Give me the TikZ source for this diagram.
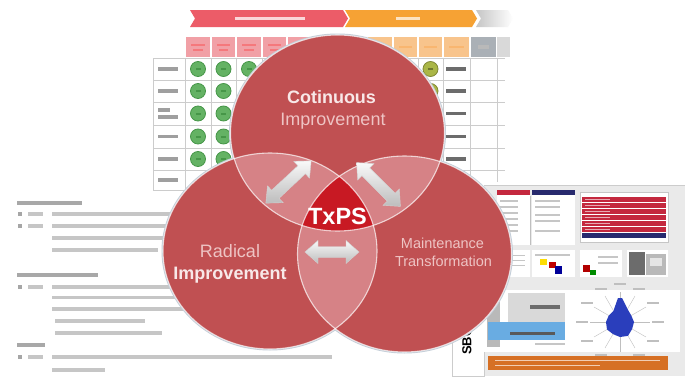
\documentclass[tikz,border=0pt]{standalone}
\usepackage{fontspec}
\setmainfont{Liberation Sans}
\definecolor{circred}{RGB}{192,80,82}
\definecolor{lensred}{RGB}{214,130,134}
\definecolor{coreRed}{RGB}{200,25,35}
\definecolor{banRed}{RGB}{236,92,104}
\definecolor{banOrange}{RGB}{246,162,52}
\definecolor{hdrPink}{RGB}{241,160,166}
\definecolor{hdrOrange}{RGB}{248,196,140}
\definecolor{hdrGray}{RGB}{170,176,182}
\definecolor{okGreen}{RGB}{100,178,100}
\definecolor{okGreenD}{RGB}{70,150,72}
\definecolor{oliveG}{RGB}{170,182,70}
\definecolor{txtLight}{RGB}{248,232,232}
\definecolor{txtPink}{RGB}{238,196,196}
\definecolor{haloC}{RGB}{196,206,216}
\definecolor{dashRed}{RGB}{196,40,62}
\definecolor{dashNavy}{RGB}{40,42,110}
\definecolor{dashBlue}{RGB}{105,172,226}
\definecolor{radarBlue}{RGB}{42,62,188}
\definecolor{dashOrange}{RGB}{214,112,36}
\definecolor{dashBg}{RGB}{234,234,234}
\newcommand{\tbar}[4][txtbar]{\fill[#1] (#2,{#4-1.8}) rectangle (#3,{#4+1.8});}
\newcommand{\headbar}[3]{\fill[hdbar] (#1,{#3-2.4}) rectangle (#2,{#3+2.4});}
\newcommand{\bull}[1]{\fill[gray!70] (18,{#1-2}) rectangle (22,{#1+2});}
\newcommand{\dblarr}[4]{%
  \begin{scope}[shift={(#1,#2)},rotate=#3]
    \shade[arrowshade] (-#4,0) -- ({-#4+13},-11.5) -- ({-#4+13},-5.5) -- ({#4-13},-5.5)
      -- ({#4-13},-11.5) -- (#4,0) -- ({#4-13},11.5) -- ({#4-13},5.5)
      -- ({-#4+13},5.5) -- ({-#4+13},11.5) -- cycle;
  \end{scope}}
\tikzset{
  txtbar/.style={fill=gray!45},
  hdbar/.style={fill=gray!68},
  gridline/.style={draw=gray!40, line width=0.6pt},
  vennhalo/.style={draw=haloC, line width=3pt},
  venn/.style={fill=circred},
  vennline/.style={draw=white, draw opacity=0.7, line width=1.1pt},
  arrowshade/.style={top color=gray!5, bottom color=gray!52, draw=gray!35, line width=0.4pt},
  bigreg/.style={font=\fontsize{18}{20}\selectfont, anchor=base, inner sep=0pt},
  bigbold/.style={font=\bfseries\fontsize{18}{20}\selectfont, anchor=base, inner sep=0pt},
  midreg/.style={font=\fontsize{14.5}{16}\selectfont, anchor=base, inner sep=0pt, text=txtPink},
}
\begin{document}
\begin{tikzpicture}[x=1pt,y=-1pt]
\useasboundingbox (0,0) rectangle (685,380);
\fill[white] (0,0) rectangle (685,380);

% ---------- background: table slide ----------
\fill[banRed] (190,10) -- (343,10) -- (348,18.5) -- (343,27) -- (190,27) -- (195,18.5) -- cycle;
\fill[banOrange] (345,10) -- (472,10) -- (477,18.5) -- (472,27) -- (345,27) -- (350,18.5) -- cycle;
\shade[left color=gray!45, right color=white] (476,10) -- (508,10) -- (513,18.5) -- (508,27) -- (476,27) -- (481,18.5) -- cycle;
\tbar[fill=white!75!banRed]{235}{305}{18.5}
\tbar[fill=white!70!banOrange]{396}{420}{18.5}

\foreach \a/\b in {185/211,211/236,236/262,262/287,287/313,313/340}
  {\fill[hdrPink] (\a+0.6,37) rectangle (\b-0.6,57);
   \fill[hdrPink!75!red] (\a+6,44) rectangle (\b-6,46);
   \fill[hdrPink!75!red] (\a+8,49) rectangle (\b-8,51);}
\foreach \a/\b in {340/367,367/393,393/418,418/443,443/470}
  {\fill[hdrOrange] (\a+0.6,37) rectangle (\b-0.6,57);
   \fill[hdrOrange!80!orange] (\a+6,46) rectangle (\b-6,48);}
\fill[hdrGray] (470.6,37) rectangle (496.4,57);
\fill[gray!30] (497,37) rectangle (510,57);
\fill[gray!55] (478,45) rectangle (489,49);

\foreach \y in {58,80,102,125,148,170,190} {\draw[gridline] (153,\y) -- (505,\y);}
\foreach \x in {153,185,211,236,262,287,313,340,367,393,418,443,470,497} {\draw[gridline] (\x,58) -- (\x,190);}

\foreach \y in {69,91,136.5,159,180} {\tbar[fill=gray!75]{158}{178}{\y}}
\tbar[fill=gray!75]{158}{170}{110}
\tbar[fill=gray!75]{158}{178}{117}
\foreach \y in {69,91,113.5,136.5,159} {\tbar[fill=gray!85!black]{446}{466}{\y}}

\foreach \x in {198,223.5,249,274.5,300,326.5,353.5,380,405.5}
  {\foreach \y in {69,91,113.5,136.5,159}
    {\fill[okGreen, draw=okGreenD, line width=0.8pt] (\x,\y) circle (7.5pt);
     \fill[okGreenD] (\x-2.5,\y-1) rectangle (\x+2.5,\y+1);}}
\foreach \y in {69,91}
  {\fill[oliveG, draw=oliveG!75!black, line width=0.8pt] (430.5,\y) circle (7.5pt);
   \fill[oliveG!65!black] (428,\y-1) rectangle (433,\y+1);}

% ---------- background: left text ----------
\headbar{17}{82}{203}
\bull{214} \tbar{28}{43}{214} \tbar{52}{190}{214}
\bull{226} \tbar{28}{43}{226} \tbar{52}{190}{226}
\tbar{52}{190}{238}
\tbar{52}{158}{250}
\headbar{17}{98}{275}
\bull{287} \tbar{28}{43}{287} \tbar{52}{190}{287}
\tbar{52}{190}{297.5}
\tbar{52}{190}{309}
\tbar{55}{145}{321}
\tbar{55}{162}{333}
\headbar{17}{45}{345}
\bull{357} \tbar{28}{43}{357} \tbar{52}{332}{357}
\tbar{52}{105}{370}

% ---------- background: dashboard ----------
\fill[white] (450,182) rectangle (685,379);
\fill[dashBg] (484,185) rectangle (685,376);
\draw[gray!40, line width=0.6pt] (484,185) -- (685,185);
\fill[white, draw=gray!40, line width=0.5pt] (452,287) rectangle (484,376);
\node[font=\bfseries\fontsize{13}{14}\selectfont, rotate=90, inner sep=0pt] (sbc) at (467,341) {SBC};
% top row
\fill[white] (497,190) rectangle (530,245);
\fill[dashRed] (497,190) rectangle (530,195);
\foreach \y in {200,206,212,218,224,230} {\fill[gray!45] (500,\y) rectangle (518,\y+1.5);}
\fill[white] (532,190) rectangle (575,245);
\fill[dashNavy] (532,190) rectangle (575,195);
\foreach \y in {200,206,214,220,230} {\fill[gray!45] (535,\y) rectangle (560,\y+1.5);}
\draw[gray!50, line width=0.8pt] (530.5,196) -- (530.5,245);
\fill[white, draw=gray!45, line width=0.5pt] (580,192) rectangle (668,242);
\foreach \y in {197,203,209,215,221,227} {\fill[dashRed] (582,\y) rectangle (666,\y+5);}
\fill[dashNavy] (582,233) rectangle (666,238);
\foreach \y in {197,203,209,215,221,227} {\fill[white!60!dashRed] (585,\y+2) rectangle (610,\y+3);}
% second row
\fill[white] (497,250) rectangle (530,277);
\foreach \y in {255,260,265} {\fill[gray!45] (500,\y) rectangle (525,\y+1.2);}
\fill[white] (532,250) rectangle (575,277);
\fill[yellow!80!orange] (540,259) rectangle (547,265);
\fill[red!75!black] (549,262) rectangle (556,268);
\fill[blue!60!black] (555,266) rectangle (562,274);
\fill[gray!45] (535,254) rectangle (570,255.5);
\fill[white] (580,250) rectangle (622,277);
\fill[red!70!black] (583,265) rectangle (590,272);
\fill[green!55!black] (590,270) rectangle (596,275);
\fill[gray!45] (598,256) rectangle (618,257.5);
\fill[gray!45] (598,262) rectangle (618,263.5);
\fill[white] (627,250) rectangle (668,277);
\fill[gray!85!black] (629,252) rectangle (645,275);
\fill[gray!55] (646,254) rectangle (666,275);
\fill[gray!20] (650,258) rectangle (662,266);
% third row
\fill[white] (484,290) rectangle (680,352);
\fill[gray!55] (487,302) rectangle (500,347);
\fill[gray!30] (508,293) rectangle (565,340);
\fill[gray!85!black] (530,305) rectangle (560,309);
\fill[dashBlue] (488,322) rectangle (565,340);
\fill[gray!70!black] (510,332) rectangle (555,334.5);
\fill[gray!45] (535,343) rectangle (565,345);
\begin{scope}[shift={(620,322)}]
  \foreach \a in {0,30,...,330} {\draw[gray!50, line width=0.4pt] (0,0) -- (\a:30pt);}
  \fill[radarBlue] (0:14pt) -- (30:13pt) -- (60:15pt) -- (85:24pt) -- (95:24pt) -- (120:13pt) -- (150:13pt)
     -- (180:14pt) -- (210:15pt) -- (240:14pt) -- (270:15pt) -- (300:16pt) -- (330:14pt) -- cycle;
  \foreach \a in {0,30,...,330} {\fill[gray!50] (\a:38pt) ++(-6pt,-1.2pt) rectangle ++(12pt,2.4pt);}
\end{scope}
\fill[dashOrange] (488,356) rectangle (668,370);
\fill[white!65!dashOrange] (495,359.5) rectangle (660,360.8);
\fill[white!65!dashOrange] (495,365) rectangle (600,366.3);

% ---------- Venn diagram ----------
\coordinate (T) at (337.5,133);
\coordinate (L) at (270,251);
\coordinate (R) at (404.5,254);
\def\RX{107pt}\def\RY{98pt}
\foreach \c in {T,L,R} {\draw[vennhalo] (\c) ellipse [x radius=\RX, y radius=\RY];}
\foreach \c in {T,L,R} {\fill[venn] (\c) ellipse [x radius=\RX, y radius=\RY];}
\begin{scope}
  \clip (T) ellipse [x radius=\RX, y radius=\RY];
  \fill[lensred] (L) ellipse [x radius=\RX, y radius=\RY];
  \fill[lensred] (R) ellipse [x radius=\RX, y radius=\RY];
\end{scope}
\begin{scope}
  \clip (L) ellipse [x radius=\RX, y radius=\RY];
  \fill[lensred] (R) ellipse [x radius=\RX, y radius=\RY];
\end{scope}
\begin{scope}
  \clip (T) ellipse [x radius=\RX, y radius=\RY];
  \clip (L) ellipse [x radius=\RX, y radius=\RY];
  \fill[coreRed] (R) ellipse [x radius=\RX, y radius=\RY];
\end{scope}
\foreach \c in {T,L,R} {\draw[vennline] (\c) ellipse [x radius=\RX, y radius=\RY];}

% arrows
\dblarr{288.5}{182}{43}{31}
\dblarr{378.5}{184.5}{-45}{31}
\dblarr{332}{252}{0}{27}

% texts
\node[bigbold, text=txtLight] (cot) at (331.5,103) {Cotinuous};
\node[bigreg, text=txtPink] (imp1) at (333,125) {Improvement};
\node[bigreg, text=txtPink] (rad) at (230,257) {Radical};
\node[bigbold, text=txtLight] (imp2) at (230,279) {Improvement};
\node[midreg] (mai) at (442.5,248) {Maintenance};
\node[midreg] (tra) at (443.5,266) {Transformation};
\node[font=\bfseries\fontsize{23.5}{25}\selectfont, text=white, anchor=base, inner sep=0pt] (txps) at (337.5,224) {TxPS};
\end{tikzpicture}
\end{document}
